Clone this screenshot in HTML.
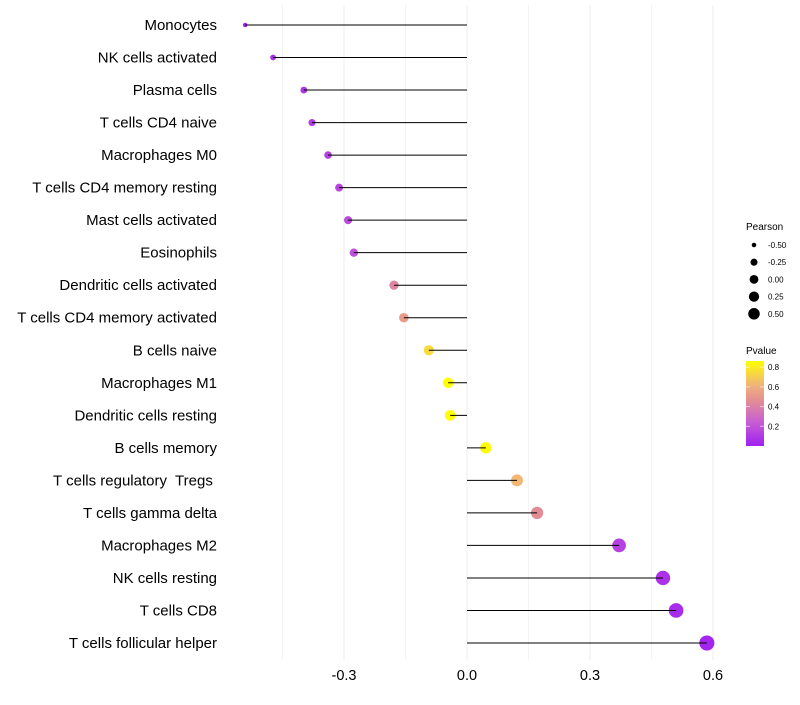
<!DOCTYPE html>
<html><head><meta charset="utf-8"><style>
body{margin:0;background:#fff;font-family:"Liberation Sans",sans-serif}
text{white-space:pre}
</style></head><body>
<svg id="chart" width="800" height="700" xmlns="http://www.w3.org/2000/svg" font-family="Liberation Sans, sans-serif"></svg>
<script>
const categories=["Monocytes","NK cells activated","Plasma cells","T cells CD4 naive","Macrophages M0","T cells CD4 memory resting","Mast cells activated","Eosinophils","Dendritic cells activated","T cells CD4 memory activated","B cells naive","Macrophages M1","Dendritic cells resting","B cells memory","T cells regulatory  Tregs ","T cells gamma delta","Macrophages M2","NK cells resting","T cells CD8","T cells follicular helper"];
const pearson=[-0.541,-0.473,-0.398,-0.378,-0.339,-0.312,-0.290,-0.276,-0.178,-0.154,-0.093,-0.046,-0.041,0.046,0.122,0.171,0.371,0.478,0.510,0.585];
const pvalue=[0.02,0.05,0.09,0.11,0.13,0.15,0.17,0.19,0.42,0.52,0.74,0.86,0.86,0.85,0.63,0.45,0.13,0.07,0.05,0.02];
const xTicks=[-0.3,0.0,0.3,0.6];
const xTickLabels=["-0.3","0.0","0.3","0.6"];
const xMinor=[-0.45,-0.15,0.15,0.45];
const sizeLegend=[-0.5,-0.25,0,0.25,0.5];
const sizeLegendLabels=["-0.50","-0.25","0.00","0.25","0.50"];
const colorTicks=[0.2,0.4,0.6,0.8];

const svg=document.getElementById('chart');
const NS="http://www.w3.org/2000/svg";
function mk(tag,attrs,parent){const e=document.createElementNS(NS,tag);for(const k in attrs)e.setAttribute(k,attrs[k]);(parent||svg).appendChild(e);return e;}
const x=v=>467+v*410;
const y=i=>25+i*(618/(categories.length-1));
const rad=p=>Math.sqrt(Math.max(4,30+46*p));
const stops=[[0,[160,32,240]],[0.25,[200,96,210]],[0.45,[226,140,150]],[0.62,[240,180,120]],[0.86,[255,255,0]]];
function col(p){p=Math.max(0,Math.min(0.86,p));for(let i=1;i<stops.length;i++){if(p<=stops[i][0]){const a=stops[i-1],b=stops[i];const t=(p-a[0])/(b[0]-a[0]);const c=a[1].map((v,k)=>Math.round(v+(b[1][k]-v)*t));return `rgb(${c})`;}}return 'rgb(255,255,0)';}

xMinor.forEach(v=>{const l=mk('line',{x1:x(v),x2:x(v),y1:5,y2:660,stroke:'#f4f4f4','stroke-width':1});
});
xTicks.forEach((v,i)=>{const l=mk('line',{x1:x(v),x2:x(v),y1:5,y2:660,stroke:'#ececec','stroke-width':1});

const t=mk('text',{x:x(v),y:680,'text-anchor':'middle','font-size':14.5,fill:'#000'});t.textContent=xTickLabels[i];
});

categories.forEach((c,i)=>{
 const t=mk('text',{x:217,y:y(i)+5,'text-anchor':'end','font-size':15,fill:'#000'});t.textContent=c;
 
 const p=mk('circle',{cx:x(pearson[i]),cy:y(i),r:rad(pearson[i]),fill:col(pvalue[i])});
 
 const l=mk('line',{x1:x(0),x2:x(pearson[i]),y1:y(i),y2:y(i),stroke:'#000','stroke-width':1});
 
});

const st=mk('text',{x:746,y:230,'font-size':10,fill:'#000'});st.textContent='Pearson';

sizeLegend.forEach((v,i)=>{const cy=245+i*17.2;
 const c=mk('circle',{cx:754,cy:cy,r:rad(v)*0.75+0.3,fill:'#000'});
 
 const t=mk('text',{x:768,y:cy+3,'font-size':8,fill:'#000'});t.textContent=sizeLegendLabels[i];
 });

const ct=mk('text',{x:746,y:354,'font-size':10,fill:'#000'});ct.textContent='Pvalue';

const defs=mk('defs',{});const g=mk('linearGradient',{id:'pg',x1:0,y1:1,x2:0,y2:0},defs);
stops.forEach(s=>mk('stop',{offset:s[0]/0.86,'stop-color':`rgb(${s[1]})`},g));
const cb=mk('rect',{x:746,y:361,width:18,height:85,fill:'url(#pg)'});

colorTicks.forEach(v=>{const cy=446-v*98.5;
 mk('line',{x1:746,x2:750,y1:cy,y2:cy,stroke:'#fff','stroke-opacity':0.6});mk('line',{x1:760,x2:764,y1:cy,y2:cy,stroke:'#fff','stroke-opacity':0.6});
 const t=mk('text',{x:768,y:cy+3,'font-size':8,fill:'#000'});t.textContent=v.toFixed(1);
 });
</script>
</body></html>
